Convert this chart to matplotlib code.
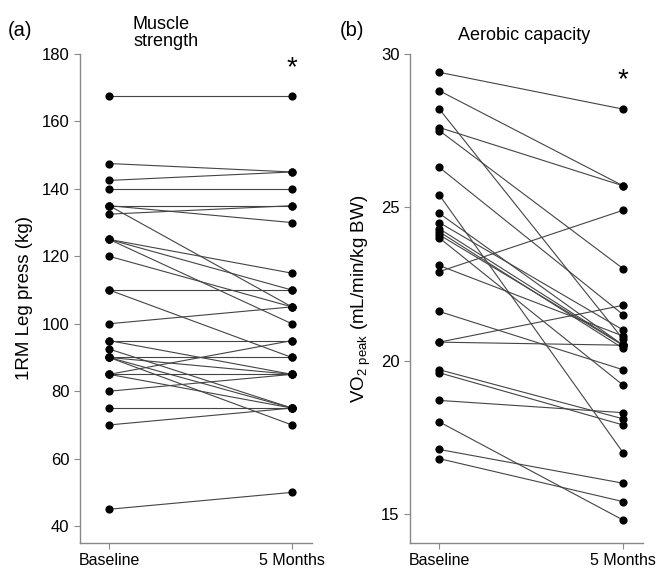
import matplotlib.pyplot as plt

plt.rcParams['font.family'] = ['Liberation Sans', 'DejaVu Sans']

# 数据：肌力 (1RM Leg press, kg)
strength_base = [167.5, 147.5, 142.5, 140, 135, 132.5, 135, 135, 125, 125, 125, 120, 110, 110,
                 100, 95, 95, 92.5, 90, 90, 90, 90, 85, 85, 85, 80, 75, 70, 45]
strength_5m = [167.5, 145, 145, 140, 135, 135, 130, 105, 115, 110, 100, 105, 110, 90,
               105, 95, 85, 75, 90, 85, 75, 70, 95, 85, 75, 85, 75, 75, 50]

# 数据：有氧能力 (VO2 peak, mL/min/kg BW)
vo2_base = [29.4, 28.8, 28.2, 27.6, 27.5, 26.3, 25.4, 24.8, 24.5, 24.3, 24.2, 24.1,
            24.0, 23.1, 22.9, 21.6, 20.6, 20.6, 19.7, 19.6, 18.7, 18.0, 17.1, 16.8]
vo2_5m = [28.2, 25.7, 20.7, 25.7, 23.0, 21.5, 17.0, 20.5, 21.0, 20.5, 20.4, 20.5,
          19.2, 20.8, 24.9, 19.7, 21.8, 20.5, 18.1, 17.9, 18.3, 14.8, 16.0, 15.4]

time_labels = ['Baseline', '5 Months']

fig = plt.figure(figsize=(6.59, 5.70), dpi=100)
ax1 = fig.add_axes([0.1214, 0.0474, 0.352, 0.858])
ax2 = fig.add_axes([0.622, 0.0474, 0.354, 0.858])


def draw_panel(ax, base, after, ylim, yticks, ylabel):
    for b, a in zip(base, after):
        ax.plot([0, 1], [b, a], color='#444444', lw=0.8, zorder=1)
    ax.scatter([0] * len(base), base, s=24, color='black', zorder=2)
    ax.scatter([1] * len(after), after, s=24, color='black', zorder=2)
    ax.set_xlim(-0.16, 1.11)
    ax.set_ylim(*ylim)
    ax.set_yticks(yticks)
    ax.set_xticks([0, 1])
    ax.set_xticklabels(time_labels)
    for s in ['top', 'right']:
        ax.spines[s].set_visible(False)
    for s in ['left', 'bottom']:
        ax.spines[s].set_color('#888888')
        ax.spines[s].set_linewidth(1.0)
    ax.tick_params(axis='both', direction='out', length=4, color='#888888')
    ax.tick_params(axis='y', labelsize=12)
    ax.tick_params(axis='x', labelsize=11.5)
    ax.set_ylabel(ylabel, fontsize=13.5, labelpad=6)


draw_panel(ax1, strength_base, strength_5m, (35, 180), range(40, 181, 20), '1RM Leg press (kg)')
draw_panel(ax2, vo2_base, vo2_5m, (14.05, 30), [15, 20, 25, 30],
           r'VO$_{\mathregular{2\ peak}}$ (mL/min/kg BW)')

# 面板标签与标题
fig.text(8 / 659, 1 - 30 / 570, '(a)', fontsize=14.5, va='center', ha='left')
fig.text(340 / 659, 1 - 30 / 570, '(b)', fontsize=14.5, va='center', ha='left')
fig.text(133 / 659, 1 - 33 / 570, 'Muscle\nstrength', fontsize=13, va='center', ha='left',
         linespacing=1.0)
fig.text(458 / 659, 1 - 36 / 570, 'Aerobic capacity', fontsize=13, va='center', ha='left')

# 显著性星号
fig.text(292 / 659, 1 - 68 / 570, '*', fontsize=20, ha='center', va='center')
fig.text(623 / 659, 1 - 80 / 570, '*', fontsize=20, ha='center', va='center')

plt.savefig('out.png', dpi=100)
